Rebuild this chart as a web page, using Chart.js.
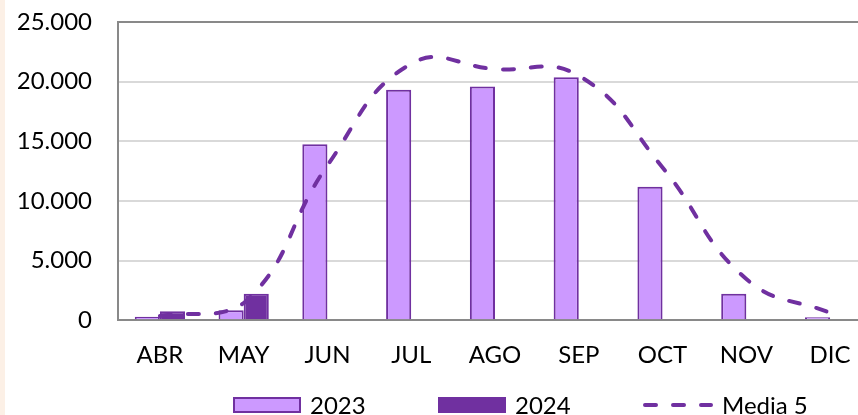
<!DOCTYPE html>
<html>
<head>
<meta charset="utf-8">
<script src="https://cdn.jsdelivr.net/npm/chart.js@4.4.0/dist/chart.umd.min.js"></script>
<style>
    html, body {
        margin: 0;
        padding: 0;
        width: 858px;
        height: 415px;
        overflow: hidden;
        background: #fcf0e6;
    }
    #wrap {
        position: absolute;
        left: 5px;
        top: 0;
        width: 867px;
        height: 415px;
        background: #fff;
    }
    #legend {
        position: absolute;
        left: 228px;
        top: 393px;
        display: flex;
        font: 24px Lato;
        color: #000;
        white-space: nowrap;
    }
    .item { display: flex; align-items: center; }
    .item.fixed { width: 205px; }
    .swatch { width: 68px; height: 16px; box-sizing: border-box; border: 2px solid #7030a0; }
    .item span { margin-left: 9px; line-height: 1; }
</style>
</head>
<body>
<div id="wrap">
    <canvas id="chart"></canvas>
    <div id="legend"></div>
</div>
<script>
// ---------------- DATA ----------------
const months = ["ABR", "MAY", "JUN", "JUL", "AGO", "SEP", "OCT", "NOV", "DIC"];
const y2023 = [280, 840, 14760, 19330, 19600, 20360, 11180, 2210, 250];
const y2024 = [760, 2210, null, null, null, null, null, null, null];
const media5 = [350, 1430, 12980, 21500, 21050, 20500, 12800, 3450, 610];
const yTicks = [0, 5000, 10000, 15000, 20000, 25000];

const PURPLE = "#7030a0";
const LILAC = "#cc99ff";

function fmt(v) {
    return String(v).replace(/\B(?=(\d{3})+(?!\d))/g, ".");
}

// ---------------- HTML LEGEND ----------------
const htmlLegend = {
    id: "htmlLegend",
    afterUpdate(chart) {
        const box = document.getElementById("legend");
        box.innerHTML = "";
        chart.data.datasets.forEach((ds, i) => {
            const item = document.createElement("div");
            item.className = "item" + (i < chart.data.datasets.length - 1 ? " fixed" : "");
            if (ds.type === "line") {
                const d = ds.borderDash.join(" ");
                item.innerHTML = `<svg width="70" height="16"><line x1="2" y1="8" x2="68" y2="8"
                    stroke="${ds.borderColor}" stroke-width="4" stroke-linecap="round"
                    stroke-dasharray="${d}"/></svg>`;
            } else {
                item.innerHTML = `<div class="swatch" style="background:${ds.backgroundColor};border-color:${ds.borderColor}"></div>`;
            }
            item.innerHTML += `<span>${ds.label}</span>`;
            box.appendChild(item);
        });
    }
};

// ---------------- CHART ----------------
Chart.defaults.font.family = "Lato";
Chart.defaults.font.size = 24;
Chart.defaults.color = "#000";

new Chart(document.getElementById("chart"), {
    type: "bar",
    data: {
        labels: months,
        datasets: [
            {
                label: "2023",
                data: y2023,
                backgroundColor: LILAC,
                borderColor: PURPLE,
                borderWidth: 2,
                order: 1
            },
            {
                label: "2024",
                data: y2024,
                backgroundColor: PURPLE,
                borderColor: PURPLE,
                borderWidth: 2,
                order: 1
            },
            {
                type: "line",
                label: "Media 5",
                data: media5,
                borderColor: PURPLE,
                borderWidth: 4,
                borderDash: [11, 17],
                borderCapStyle: "round",
                pointRadius: 0,
                tension: 0.45,
                fill: false,
                order: 0
            }
        ]
    },
    options: {
        responsive: true,
        maintainAspectRatio: false,
        animation: false,
        layout: { padding: { left: 13, top: 22, right: 0, bottom: 24 } },
        datasets: {
            bar: { barPercentage: 1, categoryPercentage: 0.6 }
        },
        plugins: {
            legend: { display: false },
            tooltip: { enabled: false }
        },
        scales: {
            x: {
                grid: { drawOnChartArea: false, drawTicks: false },
                border: { color: "#898989", width: 2 },
                ticks: { padding: 21, maxRotation: 0 }
            },
            y: {
                min: 0,
                max: 25000,
                afterBuildTicks: s => { s.ticks = yTicks.map(v => ({ value: v })); },
                afterFit: s => {
                    s.width = 100;
                    s.paddingTop = 0;
                    s.paddingBottom = 0;
                },
                grid: {
                    drawTicks: false,
                    lineWidth: 2,
                    color: c => (c.tick && c.tick.value === 25000) ? "#898989" : "#d9d9d9"
                },
                border: { color: "#898989", width: 2 },
                ticks: { padding: 26, callback: v => fmt(v) }
            }
        }
    },
    plugins: [htmlLegend]
});
</script>
</body>
</html>
